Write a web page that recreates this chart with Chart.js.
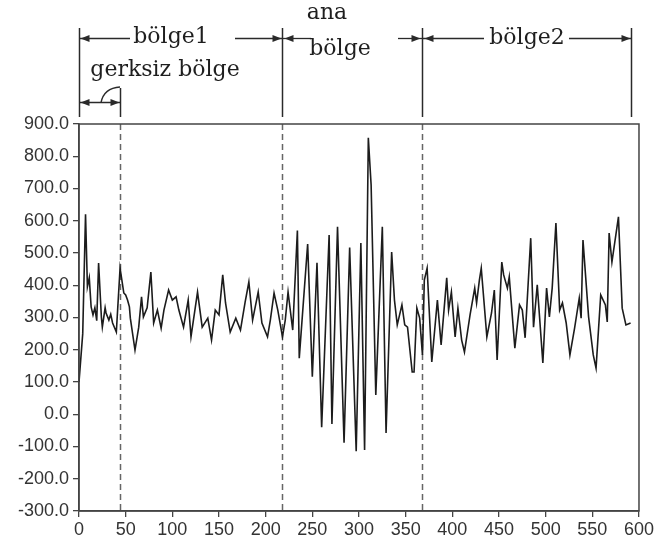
<!DOCTYPE html>
<html>
<head>
<meta charset="utf-8">
<script src="https://cdn.jsdelivr.net/npm/chart.js@4/dist/chart.umd.min.js"></script>
<style>
  html, body { margin: 0; padding: 0; background: #fff; }
  canvas { display: block; }
</style>
</head>
<body>
<canvas id="c" width="656" height="548"></canvas>
<script>
// Signal samples: position (x) and amplitude (y)
const xs = [0, 4, 7, 9, 11, 13, 15, 17, 19, 21, 24, 25, 28, 29, 32, 34, 36, 40, 44, 48, 50, 52, 54, 55, 60, 64, 67, 69, 73, 77,
  80, 84, 88, 91, 96, 100, 104, 107, 112, 117, 120, 127, 132, 138, 142, 146, 150, 154, 157, 162, 168, 173, 178, 182, 186, 192, 196,
  202, 205, 209, 213, 218, 221, 224, 229, 234, 236, 245, 250, 255, 260, 268, 271, 277, 284, 290, 297, 302, 306, 310, 313, 318,
  325, 329, 335, 338, 341, 346, 349, 352, 357, 359, 362, 365, 368, 370, 373, 378, 384, 388, 394, 396, 399, 403, 406, 410, 413,
  419, 424, 426, 429, 431, 437, 442, 445, 448, 453, 455, 459, 461, 467, 472, 475, 478, 484, 487, 491, 497, 501, 504, 507, 511,
  515, 518, 522, 526, 531, 536, 538, 540, 546, 551, 554, 559, 564, 566, 568, 571, 578, 582, 586, 591];
const ys = [100, 250, 620, 395, 423, 333, 308, 330, 290, 469, 300, 270, 330, 314, 292, 310, 283, 255, 453, 376, 370, 354, 333, 298, 199, 270, 364, 302, 330, 441,
  283, 323, 267, 323, 385, 354, 364, 323, 270, 354, 240, 379, 270, 298, 230, 323, 308, 432, 345, 255, 298, 261, 348, 410, 292, 379, 283,
  240, 292, 376, 323, 240, 292, 379, 261, 570, 174, 528, 116, 470, -40, 556, -30, 581, -88, 517, -115, 531, -111, 857, 711, 60,
  581, -58, 503, 354, 277, 339, 277, 270, 131, 131, 329, 298, 184, 416, 453, 162, 354, 215, 423, 323, 379, 240, 329, 230, 193,
  308, 391, 345, 416, 453, 240, 314, 385, 168, 472, 432, 391, 426, 205, 339, 323, 237, 546, 270, 401, 159, 391, 302, 391, 593,
  323, 345, 283, 184, 267, 360, 298, 540, 302, 184, 143, 370, 339, 286, 562, 472, 612, 329, 277, 283];

// Axis ticks
const xTicks = [0, 50, 100, 150, 200, 250, 300, 350, 400, 450, 500, 550, 600];
const yTicks = [-300, -200, -100, 0, 100, 200, 300, 400, 500, 600, 700, 800, 900];

// Zone boundaries along x and their labels
const bounds = [0, 44, 218, 367, 591];
const zoneNames = ['bölge1', 'gerksiz bölge', 'ana', 'bölge', 'bölge2'];

const INK = '#2a2a2a';
const SERIF = '22px "DejaVu Serif"';

function arrowHead(ctx, x, y, dir) {
  // dir: -1 points left, +1 points right
  ctx.beginPath();
  ctx.moveTo(x, y);
  ctx.lineTo(x - dir * 9, y - 3.5);
  ctx.lineTo(x - dir * 9, y + 3.5);
  ctx.closePath();
  ctx.fill();
}
function hline(ctx, x1, x2, y) {
  ctx.beginPath(); ctx.moveTo(x1, y); ctx.lineTo(x2, y); ctx.stroke();
}

const zonePlugin = {
  id: 'zones',
  beforeDatasetsDraw(chart) {
    const { ctx, chartArea, scales } = chart;
    ctx.save();
    ctx.strokeStyle = '#666';
    ctx.lineWidth = 1.5;
    ctx.setLineDash([6, 4]);
    [bounds[1], bounds[2], bounds[3]].forEach(v => {
      const px = Math.round(scales.x.getPixelForValue(v)) + 0.5;
      ctx.beginPath(); ctx.moveTo(px, chartArea.top); ctx.lineTo(px, chartArea.bottom); ctx.stroke();
    });
    ctx.restore();
  },
  afterDraw(chart) {
    const { ctx, chartArea, scales } = chart;
    const px = bounds.map(v => Math.round(scales.x.getPixelForValue(v)) + 0.5);
    ctx.save();
    // plot frame
    ctx.strokeStyle = '#444';
    ctx.lineWidth = 1.5;
    ctx.strokeRect(chartArea.left, chartArea.top, chartArea.right - chartArea.left, chartArea.bottom - chartArea.top);

    // boundary markers above the plot
    ctx.strokeStyle = INK;
    ctx.fillStyle = INK;
    ctx.lineWidth = 1.5;
    [0, 2, 3, 4].forEach(i => {
      ctx.beginPath(); ctx.moveTo(px[i], 28); ctx.lineTo(px[i], 117); ctx.stroke();
    });
    ctx.beginPath(); ctx.moveTo(px[1], 88); ctx.lineTo(px[1], 117); ctx.stroke();

    const yA = 38.5;
    ctx.lineWidth = 1.3;
    // bölge1 span
    hline(ctx, px[0], 130, yA); hline(ctx, 235, px[2], yA);
    arrowHead(ctx, px[0] + 1, yA, -1); arrowHead(ctx, px[2] - 1, yA, 1);
    // ana bölge span
    hline(ctx, px[2], 311, yA); hline(ctx, 398, px[3], yA);
    arrowHead(ctx, px[2] + 2, yA, -1); arrowHead(ctx, px[3] - 2, yA, 1);
    // bölge2 span
    hline(ctx, px[3], 484, yA); hline(ctx, 569, px[4], yA);
    arrowHead(ctx, px[3] + 2, yA, -1); arrowHead(ctx, px[4] - 1, yA, 1);
    // gerksiz bölge span
    const yG = 102.5;
    hline(ctx, px[0], px[1], yG);
    arrowHead(ctx, px[0] + 1, yG, -1); arrowHead(ctx, px[1] - 1, yG, 1);
    ctx.beginPath();
    ctx.moveTo(101, yG);
    ctx.quadraticCurveTo(104, 88, 120, 87);
    ctx.stroke();

    // labels
    ctx.font = SERIF;
    ctx.fillStyle = '#1e1e1e';
    ctx.textBaseline = 'alphabetic';
    ctx.textAlign = 'center';
    ctx.fillText(zoneNames[0], 171, 43);
    ctx.fillText(zoneNames[1], 165, 76);
    ctx.fillText(zoneNames[2], 327, 19);
    ctx.fillText(zoneNames[3], 340, 55);
    ctx.fillText(zoneNames[4], 527, 44);
    ctx.restore();
  }
};

const tickFont = { family: '"Liberation Sans", Arial, sans-serif', size: 18 };

new Chart(document.getElementById('c'), {
  type: 'line',
  data: {
    datasets: [{
      data: xs.map((x, i) => ({ x, y: ys[i] })),
      borderColor: '#1c1c1c',
      borderWidth: 1.6,
      pointRadius: 0,
      tension: 0,
      fill: false
    }]
  },
  options: {
    responsive: false,
    animation: false,
    devicePixelRatio: 1,
    layout: { padding: { top: 124, right: 15, left: 0, bottom: 0 } },
    plugins: { legend: { display: false }, tooltip: { enabled: false } },
    scales: {
      x: {
        type: 'linear',
        min: xTicks[0],
        max: xTicks[xTicks.length - 1],
        afterBuildTicks: s => { s.ticks = xTicks.map(v => ({ value: v })); },
        afterFit: s => { s.height = 37; },
        ticks: { color: '#333', font: tickFont, padding: 2, maxRotation: 0, autoSkip: false },
        grid: { drawOnChartArea: false, tickLength: 6, color: '#444', lineWidth: 1.3 },
        border: { color: '#444', width: 1.5 }
      },
      y: {
        type: 'linear',
        min: yTicks[0],
        max: yTicks[yTicks.length - 1],
        afterBuildTicks: s => { s.ticks = yTicks.map(v => ({ value: v })); },
        afterFit: s => { s.width = 79; },
        ticks: { color: '#333', font: tickFont, padding: 4, autoSkip: false, callback: v => Number(v).toFixed(1) },
        grid: { drawOnChartArea: false, tickLength: 6, color: '#444', lineWidth: 1.3 },
        border: { color: '#444', width: 1.5 }
      }
    }
  },
  plugins: [zonePlugin]
});
</script>
</body>
</html>
